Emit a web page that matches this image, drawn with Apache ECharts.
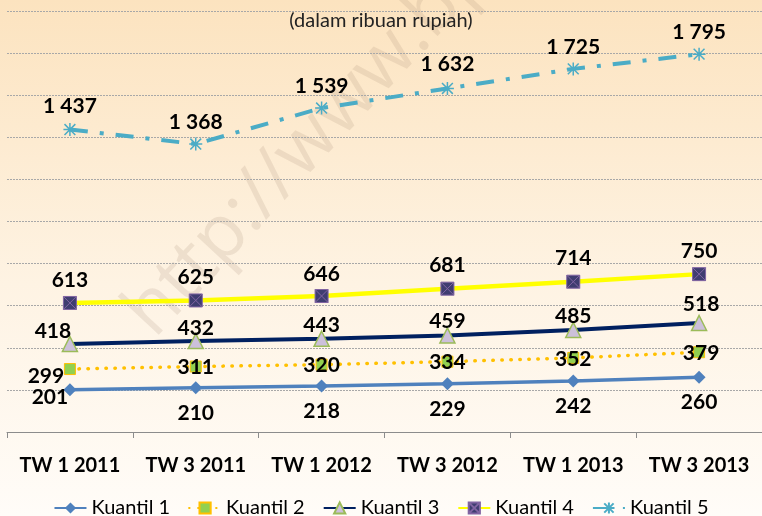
<!DOCTYPE html>
<html>
<head>
<meta charset="utf-8">
<script src="https://cdn.jsdelivr.net/npm/echarts@6/dist/echarts.min.js"></script>
<style>
  html, body { margin: 0; padding: 0; }
  #chart { width: 762px; height: 516px; }
</style>
</head>
<body>
<div id="chart"></div>
<script>
  // data (ribuan rupiah)
  var categories = ['TW 1 2011', 'TW 3 2011', 'TW 1 2012', 'TW 3 2012', 'TW 1 2013', 'TW 3 2013'];
  var kuantil1 = [201, 210, 218, 229, 242, 260];
  var kuantil2 = [299, 311, 320, 334, 352, 379];
  var kuantil3 = [418, 432, 443, 459, 485, 518];
  var kuantil4 = [613, 625, 646, 681, 714, 750];
  var kuantil5 = [1437, 1368, 1539, 1632, 1725, 1795];
  var seriesNames = ['Kuantil 1', 'Kuantil 2', 'Kuantil 3', 'Kuantil 4', 'Kuantil 5'];

  var FONT = 'Lato, "Open Sans", sans-serif';

  function fmt(p) {
    return String(p.value).replace(/\B(?=(\d{3})+(?!\d))/g, ' ');
  }

  // label offset per point (first point of some series sits to the left)
  function withOffsets(values, offs) {
    return values.map(function (v, i) {
      return { value: v, label: { offset: offs[i] } };
    });
  }

  var labelBase = {
    show: true,
    position: 'inside',
    formatter: fmt,
    color: '#000',
    fontFamily: FONT,
    fontWeight: 'bold',
    fontSize: 21
  };

  var boxX = 'path://M0,0 L10,0 L10,10 L0,10 Z M0,0 L10,10 M10,0 L0,10';
  var star = 'path://M0,0 L10,10 M10,0 L0,10 M5,-1 L5,11 M-1,5 L11,5';

  var option = {
    backgroundColor: {
      type: 'linear', x: 0, y: 0, x2: 0, y2: 1,
      colorStops: [
        { offset: 0, color: '#FCE3BF' },
        { offset: 0.55, color: '#FEF3E3' },
        { offset: 1, color: '#FFFCF8' }
      ]
    },
    animation: false,
    title: {
      text: '(dalam ribuan rupiah)',
      left: 'center',
      top: 6,
      textStyle: { fontFamily: FONT, fontWeight: 'normal', fontSize: 20, color: '#222' }
    },
    graphic: [{
      type: 'text',
      x: 112, y: 300,
      rotation: 47 * Math.PI / 180,
      z: -1,
      silent: true,
      style: {
        text: 'http://www.bps.go.id',
        fontFamily: '"Liberation Sans Narrow", "Open Sans", sans-serif',
        fontSize: 74,
        fill: 'rgba(140, 110, 90, 0.14)'
      }
    }],
    legend: {
      data: seriesNames,
      top: 493,
      left: 'center',
      itemWidth: 32,
      itemHeight: 14,
      itemGap: 18,
      textStyle: { fontFamily: FONT, fontSize: 20, color: '#000' }
    },
    grid: { left: 7, right: -3, top: 11, bottom: 84 },
    xAxis: {
      type: 'category',
      data: categories,
      boundaryGap: true,
      axisLine: { lineStyle: { color: '#8C8C8C', width: 1 } },
      axisTick: { show: true, interval: 0, length: 6, lineStyle: { color: '#8C8C8C' } },
      axisLabel: { interval: 0, margin: 24, color: '#000', fontFamily: FONT, fontWeight: 'bold', fontSize: 20 }
    },
    yAxis: {
      type: 'value',
      min: 0, max: 2000, interval: 200,
      axisLabel: { show: false },
      axisLine: { show: false },
      axisTick: { show: false },
      splitLine: { lineStyle: { color: '#A8A8A8', type: [2, 1], width: 1 } }
    },
    series: [
      {
        name: 'Kuantil 1',
        type: 'line',
        data: withOffsets(kuantil1, [[-20, 8], [0, 25], [0, 25], [0, 25], [0, 25], [0, 25]]),
        symbol: 'diamond',
        symbolSize: 13,
        itemStyle: { color: '#4F81BD' },
        lineStyle: { color: '#4F81BD', width: 3.5 },
        label: labelBase
      },
      {
        name: 'Kuantil 2',
        type: 'line',
        data: withOffsets(kuantil2, [[-24, 7], [0, 1], [0, 1], [0, 1], [0, 1], [2, 1]]),
        symbol: 'rect',
        symbolSize: 11,
        itemStyle: { color: '#92D050', borderColor: '#FFC000', borderWidth: 1 },
        lineStyle: { color: '#FFC000', width: 3.5, type: [0.5, 8.5], cap: 'round' },
        label: labelBase
      },
      {
        name: 'Kuantil 3',
        type: 'line',
        data: withOffsets(kuantil3, [[-17, -13], [0, -13], [0, -14], [0, -14], [0, -14], [2, -19]]),
        symbol: 'triangle',
        symbolSize: 15,
        itemStyle: { color: '#CCC0DA', borderColor: '#9BBB59', borderWidth: 1.5 },
        lineStyle: { color: '#002060', width: 4 },
        label: labelBase
      },
      {
        name: 'Kuantil 4',
        type: 'line',
        data: withOffsets(kuantil4, [[0, -23], [0, -23], [0, -22], [0, -23], [0, -23], [0, -23]]),
        symbol: boxX,
        symbolSize: 13,
        itemStyle: { color: '#3F3D70', borderColor: '#8064A2', borderWidth: 1 },
        lineStyle: { color: '#FFFF00', width: 4.5 },
        label: labelBase
      },
      {
        name: 'Kuantil 5',
        type: 'line',
        data: withOffsets(kuantil5, [[0, -23], [0, -22], [0, -22], [0, -24], [0, -22], [0, -22]]),
        symbol: star,
        symbolSize: 13,
        itemStyle: { color: '#4BACC6', borderColor: '#4BACC6', borderWidth: 1.5 },
        lineStyle: { color: '#4BACC6', width: 4, type: [18, 12, 4, 12] },
        label: labelBase
      }
    ]
  };

  var chart = echarts.init(document.getElementById('chart'));
  chart.setOption(option);
</script>
</body>
</html>
